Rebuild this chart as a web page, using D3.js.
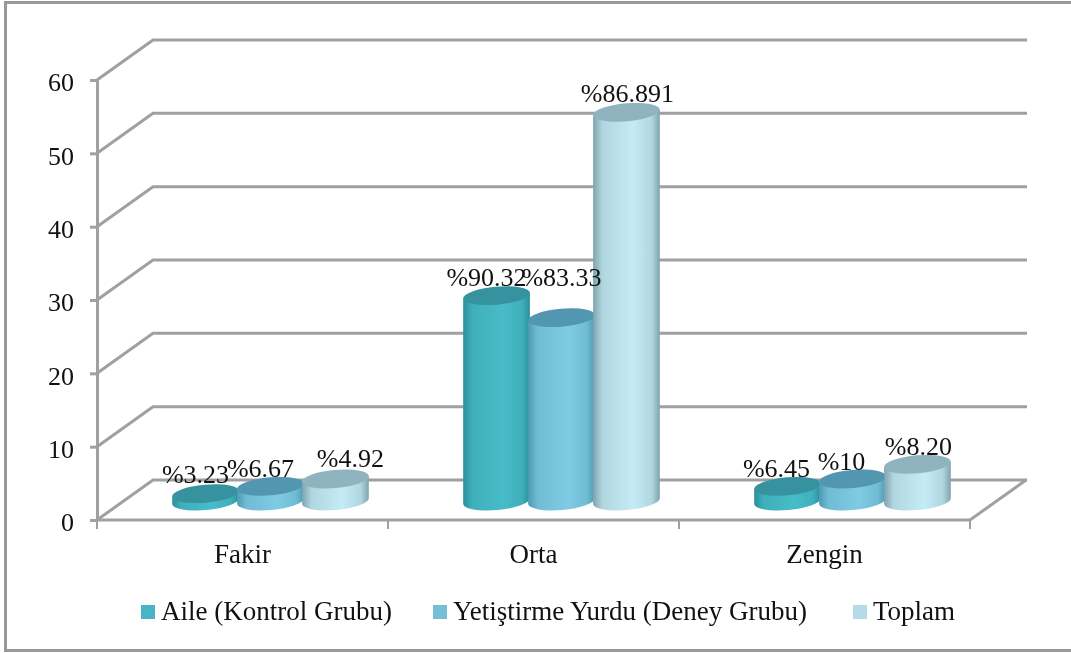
<!DOCTYPE html>
<html>
<head>
<meta charset="utf-8">
<script src="https://cdn.jsdelivr.net/npm/d3@7"></script>
<style>
    html, body { margin: 0; padding: 0; background: #fff; }
    svg { display: block; filter: blur(0.45px); }
    text { font-family: "Liberation Serif", serif; fill: #111; }
</style>
</head>
<body>
<svg id="container" width="1071" height="653"></svg>
<script>
let categories = ["Fakir", "Orta", "Zengin"]
let seriesNames = ["Aile (Kontrol Grubu)", "Yetiştirme Yurdu (Deney Grubu)", "Toplam"]

let aileValues = [1, 28, 2]
let yurtValues = [2, 25, 3]
let toplamValues = [3, 53, 5]

let aileLabels = ["%3.23", "%90.32", "%6.45"]
let yurtLabels = ["%6.67", "%83.33", "%10"]
let toplamLabels = ["%4.92", "%86.891", "%8.20"]

let yTicks = [0, 10, 20, 30, 40, 50, 60]

// edge, middle, top cap, legend
let palette = [
    { edge: "#2b8f9c", mid: "#47bcc8", top: "#37929f", key: "#47b5c3" },
    { edge: "#4f9ab3", mid: "#7fcbe3", top: "#5396b1", key: "#74bfd6" },
    { edge: "#7fa3ae", mid: "#c5ecf6", top: "#8fb3bf", key: "#b4dce8" }
]

let svg = d3.select("#container")

let left = 97, right = 970, bottom = 520, top_ = 80
let depthX = 56, depthY = -40
let gridColor = "#a0a0a0"

let xScale = d3.scaleBand().domain(categories).range([left, right])
let xSeries = d3.scaleBand().domain(d3.range(3)).range([0, xScale.bandwidth()]).paddingInner(0).paddingOuter(0.74)
let yScale = d3.scaleLinear().domain([0, 60]).range([bottom, top_])

// frame (no right edge in the picture)
svg.append("path")
    .attr("d", "M1071,2.5 H5.5 V650.5 H1071")
    .attr("fill", "none")
    .attr("stroke", "#999")
    .attr("stroke-width", 3)

// wall grid lines
let grid = svg.append("g")
    .attr("fill", "none")
    .attr("stroke", gridColor)
    .attr("stroke-width", 3)

grid.selectAll(".wall")
    .data(yTicks)
    .enter()
    .append("path")
    .attr("class", "wall")
    .attr("d", d => "M" + left + "," + yScale(d) + " L" + (left + depthX) + "," + (yScale(d) + depthY) + " H" + (right + depthX + 1))

// floor edge on the right
grid.append("path")
    .attr("d", "M" + left + "," + bottom + " H" + right + " L" + (right + depthX) + "," + (bottom + depthY))

let yAxis = svg.append("g")
    .attr("transform", "translate(" + left + ",0)")
    .call(d3.axisLeft(yScale).tickValues(yTicks).tickSize(7).tickPadding(16).tickSizeOuter(0))
yAxis.selectAll("path, line").attr("stroke", gridColor).attr("stroke-width", 3)
yAxis.selectAll("text").attr("font-size", "26px").attr("dy", "0.41em").style("font-family", '"Liberation Serif", serif')

let xAxis = svg.append("g")
    .attr("transform", "translate(0," + bottom + ")")
    .call(d3.axisBottom(xScale).tickSize(0).tickPadding(24).tickSizeOuter(0))
xAxis.select("path").remove()
xAxis.selectAll("text").attr("font-size", "27px").style("font-family", '"Liberation Serif", serif')

// ticks sit between the bands, not at their centres
xAxis.selectAll(".sep")
    .data(categories.map(c => xScale(c)).concat([right]))
    .enter()
    .append("line")
    .attr("class", "sep")
    .attr("x1", d => d)
    .attr("x2", d => d)
    .attr("y1", 0)
    .attr("y2", 9)
    .attr("stroke", gridColor)
    .attr("stroke-width", 2)

// gradients
let defs = svg.append("defs")
palette.forEach((p, i) => {
    let g = defs.append("linearGradient").attr("id", "cyl" + i)
    g.append("stop").attr("offset", "0%").attr("stop-color", p.edge)
    g.append("stop").attr("offset", "14%").attr("stop-color", d3.interpolateRgb(p.edge, p.mid)(0.7))
    g.append("stop").attr("offset", "60%").attr("stop-color", p.mid)
    g.append("stop").attr("offset", "88%").attr("stop-color", d3.interpolateRgb(p.edge, p.mid)(0.7))
    g.append("stop").attr("offset", "100%").attr("stop-color", p.edge)
})

let allValues = [aileValues, yurtValues, toplamValues]
let allLabels = [aileLabels, yurtLabels, toplamLabels]

let bars = []
allValues.forEach((vals, s) => {
    vals.forEach((v, c) => {
        bars.push({ s: s, c: c, value: v, label: allLabels[s][c] })
    })
})

let rx = xSeries.bandwidth() / 2 + 1
let ry = 9
let tilt = 5
let cos = Math.cos(tilt * Math.PI / 180), sin = Math.sin(tilt * Math.PI / 180)

function cx(d) {
    return xScale(categories[d.c]) + xSeries(d.s) + xSeries.bandwidth() / 2 + depthX / 2
}
function cy(value) {
    return yScale(value) + depthY / 2 + 1
}

function sidePath(d) {
    let x = cx(d), yt = cy(d.value), yb = cy(0)
    let dx = rx * cos, dy = rx * sin
    return "M" + (x - dx) + "," + (yt + dy)
        + " L" + (x - dx) + "," + (yb + dy)
        + " A" + rx + "," + ry + " " + (-tilt) + " 0 0 " + (x + dx) + "," + (yb - dy)
        + " L" + (x + dx) + "," + (yt - dy)
        + " Z"
}

let cyl = svg.append("g")
    .selectAll(".cylinder")
    .data(bars.slice().sort((a, b) => a.c - b.c || a.s - b.s))
    .enter()
    .append("g")
    .attr("class", "cylinder")

cyl.append("path")
    .attr("d", sidePath)
    .attr("fill", d => "url(#cyl" + d.s + ")")

cyl.append("ellipse")
    .attr("rx", rx)
    .attr("ry", ry)
    .attr("transform", d => "translate(" + cx(d) + "," + cy(d.value) + ") rotate(" + (-tilt) + ")")
    .attr("fill", d => palette[d.s].top)

// hand placed offsets, the labels in the source are not centred on the bars
let labelDx = [[-10, -10, -11], [-10, 0, -11], [15, 1, 1]]
let labelDy = [[-11, -10, -9], [-9, -32, -9], [-12, -10, -9]]

svg.append("g")
    .selectAll(".value")
    .data(bars)
    .enter()
    .append("text")
    .attr("class", "value")
    .attr("x", d => cx(d) + labelDx[d.s][d.c])
    .attr("y", d => cy(d.value) + labelDy[d.s][d.c])
    .attr("text-anchor", "middle")
    .attr("font-size", "26px")
    .text(d => d.label)

// legend
let legendX = [141, 433, 853]
let legend = svg.append("g")
    .selectAll(".key")
    .data(seriesNames)
    .enter()
    .append("g")
    .attr("class", "key")
    .attr("transform", (d, i) => "translate(" + legendX[i] + ",605)")

legend.append("rect")
    .attr("width", 14)
    .attr("height", 14)
    .attr("fill", (d, i) => palette[i].key)

legend.append("text")
    .attr("x", 20)
    .attr("y", 15)
    .attr("font-size", "27px")
    .text(d => d)
</script>
</body>
</html>
